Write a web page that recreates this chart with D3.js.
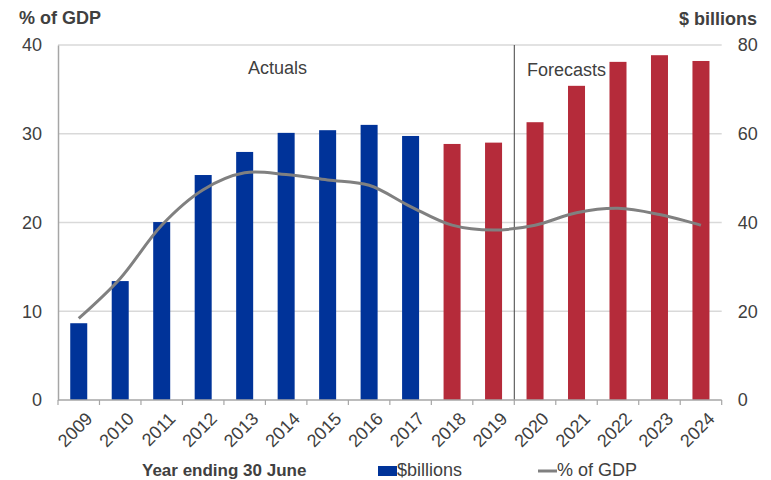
<!DOCTYPE html>
<html><head><meta charset="utf-8">
<script src="https://cdn.jsdelivr.net/npm/d3@7"></script>
<style>body{margin:0;background:#fff}svg{display:block;font-family:"Liberation Sans",Arial,sans-serif}</style>
</head><body><svg id="c" width="771" height="480"></svg>
<script>
const years = ["2009","2010","2011","2012","2013","2014","2015","2016","2017","2018","2019","2020","2021","2022","2023","2024"];
const billions = [17.3,26.8,40.1,50.7,55.9,60.2,60.8,62.0,59.5,57.7,58.0,62.6,70.8,76.2,77.7,76.4];
const pctGDP = [9.2,13.7,19.7,23.7,25.6,25.4,24.8,24.2,21.8,19.7,19.15,19.7,21.1,21.6,20.9,19.7];
const actualYears = ["2009","2010","2011","2012","2013","2014","2015","2016","2017"];
const leftTicks = [0,10,20,30,40];
const rightTicks = [0,20,40,60,80];

const svg = d3.select("#c");
const L=58,R=721.7,T=45,B=400;
const x = d3.scaleBand().domain(years).range([L,R]).paddingInner(0.59).paddingOuter(0.295);
const xb = d3.scaleBand().domain(years).range([L,R]);
const yL = d3.scaleLinear().domain([0,40]).range([B,T]);
const yR = d3.scaleLinear().domain([0,80]).range([B,T]);
const txt="#404040";
const FS="18px";

// gridlines
svg.append("g").selectAll("line").data(leftTicks.filter(d=>d>0)).join("line")
  .attr("x1",L).attr("x2",R).attr("y1",d=>yL(d)).attr("y2",d=>yL(d))
  .attr("stroke","#d9d9d9").attr("stroke-width",1.5);

// bars
svg.append("g").selectAll("rect").data(years).join("rect")
  .attr("x",d=>x(d)).attr("width",x.bandwidth())
  .attr("y",(d,i)=>yR(billions[i])).attr("height",(d,i)=>B-yR(billions[i]))
  .attr("fill",d=>actualYears.includes(d)?"#003399":"#B52B3A");

// divider
const divX = xb("2020");
svg.append("line").attr("x1",divX).attr("x2",divX).attr("y1",T).attr("y2",B)
  .attr("stroke","#404040").attr("stroke-width",1);

// line
const line = d3.line().x((d,i)=>xb(years[i])+xb.bandwidth()/2).y(d=>yL(d)).curve(d3.curveCatmullRom.alpha(0.5));
svg.append("path").datum(pctGDP).attr("d",line).attr("fill","none")
  .attr("stroke","#808080").attr("stroke-width",3);

// left axis
const gl = svg.append("g").attr("transform",`translate(${L},0)`)
  .call(d3.axisLeft(yL).tickValues(leftTicks).tickSize(0).tickPadding(16));
gl.select(".domain").attr("stroke","#a6a6a6").attr("stroke-width",1.5);
gl.selectAll("text").attr("fill",txt).style("font-size",FS).style("font-family","Liberation Sans, Arial, sans-serif");

// right axis
const gr = svg.append("g").attr("transform",`translate(${R},0)`)
  .call(d3.axisRight(yR).tickValues(rightTicks).tickSize(0).tickPadding(16));
gr.select(".domain").remove();
gr.selectAll("text").attr("fill",txt).style("font-size",FS).style("font-family","Liberation Sans, Arial, sans-serif");

// bottom axis
const gb = svg.append("g").attr("transform",`translate(0,${B})`);
gb.append("line").attr("x1",L).attr("x2",R).attr("stroke","#a6a6a6").attr("stroke-width",1.5);
const bounds = years.map(d=>xb(d)).concat([R]);
gb.selectAll("line.t").data(bounds).join("line").attr("class","t")
  .attr("x1",d=>d).attr("x2",d=>d).attr("y1",0).attr("y2",5).attr("stroke","#a6a6a6").attr("stroke-width",1.2);
gb.selectAll("text").data(years).join("text")
  .attr("transform",d=>`translate(${xb(d)+xb.bandwidth()/2+6},${11}) rotate(-45)`)
  .attr("text-anchor","end").attr("dy","0.7em").attr("fill",txt).style("font-size",FS).text(d=>d);

// titles
svg.append("text").attr("x",19).attr("y",24).attr("fill",txt).style("font-size",FS).style("font-weight","bold").text("% of GDP");
svg.append("text").attr("x",757).attr("y",25).attr("text-anchor","end").attr("fill",txt).style("font-size",FS).style("font-weight","bold").text("$ billions");
svg.append("text").attr("x",248).attr("y",74).attr("fill",txt).style("font-size",FS).text("Actuals");
svg.append("text").attr("x",527).attr("y",76).attr("fill",txt).style("font-size",FS).text("Forecasts");

// x title and legend
svg.append("text").attr("x",142).attr("y",476).attr("fill",txt).style("font-size","17px").style("font-weight","bold").text("Year ending 30 June");
svg.append("rect").attr("x",378).attr("y",466).attr("width",19).attr("height",10).attr("fill","#003399");
svg.append("text").attr("x",397).attr("y",476).attr("fill",txt).style("font-size",FS).text("$billions");
svg.append("line").attr("x1",538).attr("x2",557).attr("y1",471).attr("y2",471).attr("stroke","#808080").attr("stroke-width",3);
svg.append("text").attr("x",557).attr("y",476).attr("fill",txt).style("font-size",FS).text("% of GDP");
</script></body></html>
